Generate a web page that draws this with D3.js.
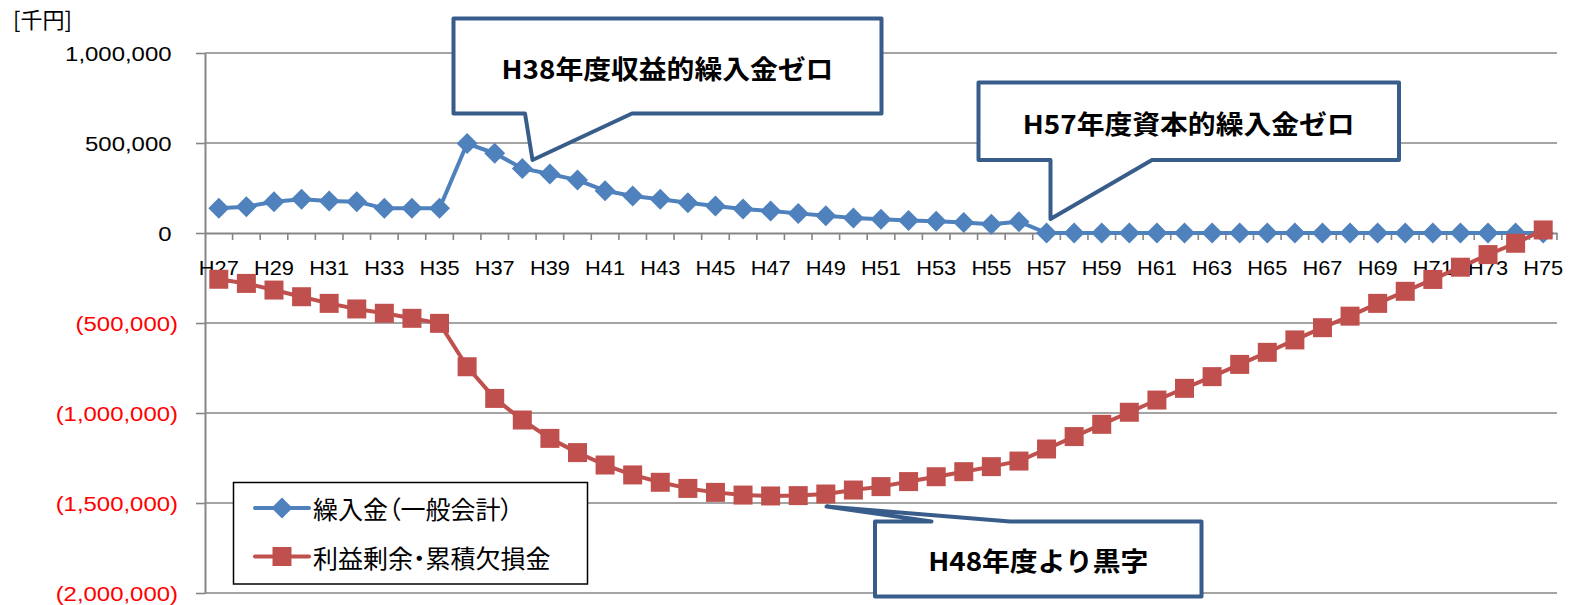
<!DOCTYPE html>
<html>
<head>
<meta charset="utf-8">
<script src="https://cdn.jsdelivr.net/npm/d3@7"></script>
<style>
  html, body { margin: 0; padding: 0; background: #ffffff; }
  svg { display: block; }
</style>
</head>
<body>
<svg id="chart" width="1570" height="605"></svg>
<script>
// Fiscal years (Heisei)
const categories = [
  "H27","H28","H29","H30","H31","H32","H33","H34","H35","H36",
  "H37","H38","H39","H40","H41","H42","H43","H44","H45","H46",
  "H47","H48","H49","H50","H51","H52","H53","H54","H55","H56",
  "H57","H58","H59","H60","H61","H62","H63","H64","H65","H66",
  "H67","H68","H69","H70","H71","H72","H73","H74","H75"
];

// 繰入金（一般会計）, thousand yen
const transfers = [
  137000, 146000, 174000, 187000, 178000, 174000, 137000, 137000, 137000, 497000,
  443000, 359000, 328000, 294000, 235000, 206000, 187000, 168000, 150000, 133000,
  122000, 109000,  96000,  84000,  76000,  70000,  65000,  58000,  48000,  63000,
       0,      0,      0,      0,      0,      0,      0,      0,      0,      0,
       0,      0,      0,      0,      0,      0,      0,      0,      0
];

// 利益剰余・累積欠損金, thousand yen
const surplus = [
   -257000,  -280000,  -317000,  -354000,  -391000,  -422000,  -446000,  -474000,  -502000,  -743000,
   -919000, -1039000, -1141000, -1220000, -1289000, -1344000, -1385000, -1419000, -1441000, -1456000,
  -1461000, -1459000, -1450000, -1428000, -1409000, -1381000, -1354000, -1326000, -1298000, -1267000,
  -1200000, -1131000, -1063000,  -996000,  -928000,  -863000,  -798000,  -730000,  -663000,  -594000,
   -526000,  -462000,  -391000,  -324000,  -258000,  -190000,  -120000,   -57000,    17000
];

const yTickValues = [1000000, 500000, 0, -500000, -1000000, -1500000, -2000000];
const seriesNames = ["繰入金（一般会計）", "利益剰余・累積欠損金"];
const unitLabel = "[千円]";
const calloutTexts = ["H38年度収益的繰入金ゼロ", "H57年度資本的繰入金ゼロ", "H48年度より黒字"];

// ---- layout & style ----
const svg = d3.select("#chart");
const plot = { left: 205, right: 1557, top: 53, bottom: 593 };
const GRID = "#868686";
const BLUE = "#4F81BD";
const RED = "#C0504D";
const CALLOUT = "#385D8A";
const LATIN = "'Liberation Sans', Arial, sans-serif";
const CJK = "'Noto Sans CJK JP', 'Noto Sans', sans-serif";

const x = d3.scaleBand().domain(categories).range([plot.left, plot.right]).padding(0);
const y = d3.scaleLinear().domain([-2000000, 1000000]).range([plot.bottom, plot.top]);
const cx = d => x(d) + x.bandwidth() / 2;

// horizontal gridlines
svg.append("g")
  .selectAll("line")
  .data(yTickValues.filter(v => v !== 0))
  .join("line")
  .attr("x1", plot.left).attr("x2", plot.right)
  .attr("y1", d => y(d)).attr("y2", d => y(d))
  .attr("stroke", GRID).attr("stroke-width", 1.6);

// value axis
const fmt = d3.format(",");
const yAxis = d3.axisLeft(y)
  .tickValues(yTickValues)
  .tickSize(9)
  .tickSizeOuter(0)
  .tickFormat(d => d < 0 ? "(" + fmt(-d) + ")" : fmt(d));
const gy = svg.append("g").attr("transform", `translate(${plot.left},0)`).call(yAxis);
gy.select(".domain").attr("stroke", GRID).attr("stroke-width", 2);
gy.selectAll(".tick line").attr("stroke", GRID).attr("stroke-width", 1.6);
gy.selectAll(".tick text")
  .attr("font-family", LATIN)
  .attr("font-size", 21)
  .attr("fill", d => d < 0 ? "#FF0000" : "#000000")
  .attr("dy", null)
  .attr("y", 7.5)
  .attr("x", d => (d < 0 ? -27 : -33.5) / 1.14)
  .attr("transform", "scale(1.14,1)");

// category axis on the zero line
const zeroY = y(0);
const xAxis = d3.axisBottom(x)
  .tickValues(categories.filter((c, i) => i % 2 === 0))
  .tickSize(0)
  .tickSizeOuter(0)
  .tickPadding(0);
const gx = svg.append("g").attr("transform", `translate(0,${zeroY})`).call(xAxis);
gx.select(".domain").attr("stroke", GRID).attr("stroke-width", 2);
gx.selectAll(".tick text")
  .attr("font-family", LATIN)
  .attr("font-size", 20)
  .attr("fill", "#000000")
  .attr("dy", null)
  .attr("y", 42)
  .attr("transform", "scale(1.09,1)");

// tick marks on the category boundaries
const boundaries = categories.map(c => x(c)).concat([x.range()[1]]);
svg.append("g")
  .selectAll("line")
  .data(boundaries.slice(1))
  .join("line")
  .attr("x1", d => d).attr("x2", d => d)
  .attr("y1", zeroY).attr("y2", zeroY + 7)
  .attr("stroke", GRID).attr("stroke-width", 1.6);

// unit label
svg.append("text")
  .attr("x", 13).attr("y", 28)
  .attr("font-family", CJK).attr("font-size", 22)
  .attr("fill", "#000")
  .text(unitLabel);

// series
const line = d3.line().x((d, i) => cx(categories[i])).y(d => y(d));
const diamond = r => `M0,${-r}L${r},0L0,${r}L${-r},0Z`;
const square = s => `M${-s/2},${-s/2}H${s/2}V${s/2}H${-s/2}Z`;

function drawSeries(values, color, shape) {
  const g = svg.append("g");
  g.append("path")
    .attr("d", line(values))
    .attr("fill", "none")
    .attr("stroke", color)
    .attr("stroke-width", 4)
    .attr("stroke-linejoin", "round")
    .attr("stroke-linecap", "round");
  g.selectAll("path.marker")
    .data(values)
    .join("path")
    .attr("class", "marker")
    .attr("transform", (d, i) => `translate(${cx(categories[i])},${y(d)})`)
    .attr("d", shape)
    .attr("fill", color);
}
drawSeries(transfers, BLUE, diamond(10.5));
drawSeries(surplus, RED, square(19));

// callouts
function callout(box, wedge, text, textY) {
  const { l, t, r, b } = box;
  let d;
  if (wedge.side === "bottom") {
    d = `M${l},${t}H${r}V${b}H${wedge.b2}L${wedge.tx},${wedge.ty}L${wedge.b1},${b}H${l}Z`;
  } else {
    d = `M${l},${t}H${wedge.b1}L${wedge.tx},${wedge.ty}L${wedge.b2},${t}H${r}V${b}H${l}Z`;
  }
  svg.append("path")
    .attr("d", d)
    .attr("fill", "#ffffff")
    .attr("stroke", CALLOUT)
    .attr("stroke-width", 4)
    .attr("stroke-linejoin", "round");
  svg.append("text")
    .attr("transform", `translate(${(l + r) / 2},${textY}) scale(1.07,1)`)
    .attr("text-anchor", "middle")
    .attr("dominant-baseline", "central")
    .attr("font-family", CJK)
    .attr("font-weight", "bold")
    .attr("font-size", 26)
    .attr("fill", "#000")
    .text(text);
}
callout({ l: 453.5, t: 18.5, r: 881.5, b: 113.5 },
        { side: "bottom", b1: 525, b2: 632, tx: 532.5, ty: 160 },
        calloutTexts[0], 67.5);
callout({ l: 978.5, t: 82.5, r: 1399, b: 160 },
        { side: "bottom", b1: 1050.5, b2: 1152, tx: 1050.5, ty: 219 },
        calloutTexts[1], 123);
callout({ l: 875, t: 521.5, r: 1201.5, b: 596.5 },
        { side: "top", b1: 931.5, b2: 1010, tx: 826.5, ty: 506.5 },
        calloutTexts[2], 560);

// legend
const lg = svg.append("g");
lg.append("rect")
  .attr("x", 233.5).attr("y", 482.5)
  .attr("width", 354).attr("height", 101.5)
  .attr("fill", "#ffffff")
  .attr("stroke", "#000").attr("stroke-width", 1.5);
const legendItems = [
  { name: seriesNames[0], color: BLUE, shape: diamond(10.5), y: 508 },
  { name: seriesNames[1], color: RED, shape: square(19), y: 556.5 }
];
legendItems.forEach(it => {
  lg.append("line")
    .attr("x1", 255).attr("x2", 309)
    .attr("y1", it.y).attr("y2", it.y)
    .attr("stroke", it.color).attr("stroke-width", 4)
    .attr("stroke-linecap", "round");
  lg.append("path")
    .attr("transform", `translate(282,${it.y})`)
    .attr("d", it.shape)
    .attr("fill", it.color);
  lg.append("text")
    .attr("x", 313).attr("y", it.y)
    .attr("dominant-baseline", "central")
    .attr("font-family", CJK)
    .attr("font-size", 25)
    .style("font-feature-settings", "'palt'")
    .attr("fill", "#000")
    .text(it.name);
});
</script>
</body>
</html>
